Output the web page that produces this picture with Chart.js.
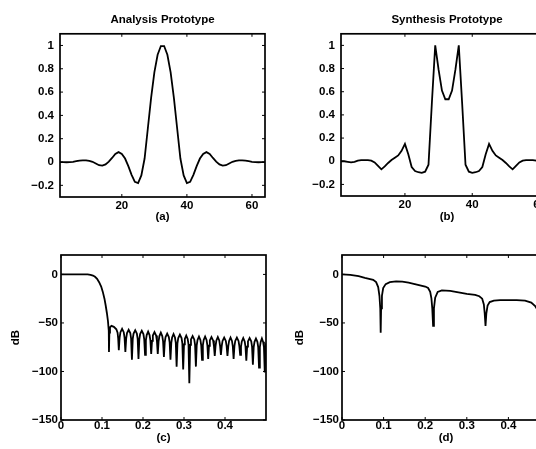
<!DOCTYPE html>
<html>
<head>
<meta charset="utf-8">
<script src="https://cdn.jsdelivr.net/npm/chart.js@4"></script>
<style>
  html, body { margin: 0; padding: 0; background: #fff; overflow: hidden; }
  #page { position: relative; width: 536px; height: 449px; overflow: hidden; background: #fff; }
  canvas { position: absolute; }
</style>
</head>
<body>
<div id="page">
  <canvas id="panel-a" width="275" height="226" style="left:0px;top:0px;width:275px;height:226px"></canvas>
  <canvas id="panel-b" width="300" height="226" style="left:276px;top:0px;width:300px;height:226px"></canvas>
  <canvas id="panel-c" width="275" height="219" style="left:0px;top:230px;width:275px;height:219px"></canvas>
  <canvas id="panel-d" width="300" height="219" style="left:276px;top:230px;width:300px;height:219px"></canvas>
</div>
<script>
// Tap index and axis ticks for the two prototype plots
const sampleIdx = [1, 2, 3, 4, 5, 6, 7, 8, 9, 10, 11, 12, 13, 14, 15, 16,
  17, 18, 19, 20, 21, 22, 23, 24, 25, 26, 27, 28, 29, 30, 31, 32,
  33, 34, 35, 36, 37, 38, 39, 40, 41, 42, 43, 44, 45, 46, 47, 48,
  49, 50, 51, 52, 53, 54, 55, 56, 57, 58, 59, 60, 61, 62, 63, 64];
const tapTicks = [20, 40, 60];
const ampTicks = [-0.2, 0, 0.2, 0.4, 0.6, 0.8, 1];

// (a) analysis prototype
const analysisTaps = [0, 0, -0.002, -0.001, 0.002, 0.007, 0.012, 0.015, 0.014, 0.01, 0.002, -0.012, -0.027, -0.03, -0.02, 0.003,
  0.035, 0.07, 0.085, 0.07, 0.03, -0.035, -0.11, -0.17, -0.18, -0.115, 0.03, 0.29, 0.55, 0.77, 0.92, 0.995,
  0.995, 0.92, 0.77, 0.55, 0.29, 0.03, -0.115, -0.18, -0.17, -0.11, -0.035, 0.03, 0.07, 0.085, 0.07, 0.035,
  0.003, -0.02, -0.03, -0.027, -0.012, 0.002, 0.01, 0.014, 0.015, 0.012, 0.007, 0.002, -0.001, -0.002, 0, 0];

// (b) synthesis prototype
const synthesisTaps = [0, 0, -0.005, -0.01, -0.005, 0.005, 0.01, 0.01, 0.01, 0.005, -0.01, -0.04, -0.07, -0.045, -0.015, 0.01,
  0.03, 0.05, 0.09, 0.15, 0.06, -0.05, -0.085, -0.095, -0.1, -0.09, -0.03, 0.5, 1.0, 0.79, 0.61, 0.535,
  0.535, 0.61, 0.79, 1.0, 0.5, -0.03, -0.09, -0.1, -0.095, -0.085, -0.05, 0.06, 0.15, 0.09, 0.05, 0.03,
  0.01, -0.015, -0.045, -0.07, -0.04, -0.01, 0.005, 0.01, 0.01, 0.01, 0.005, -0.005, -0.01, -0.005, 0, 0];

// Frequency axes ticks
const freqTicks = [0, 0.1, 0.2, 0.3, 0.4];
const dbTicks = [-150, -100, -50, 0];

// (c) analysis magnitude response (normalised frequency, dB)
const freqC = [0, 0.065, 0.072, 0.078, 0.083, 0.088, 0.093, 0.098, 0.102, 0.106, 0.109, 0.112, 0.1145, 0.1165,
  0.117, 0.118, 0.1195, 0.123, 0.129, 0.135, 0.138, 0.1395,
  0.141, 0.143, 0.145, 0.149, 0.153, 0.155,
  0.157, 0.159, 0.161, 0.165, 0.169, 0.171,
  0.173, 0.175, 0.177, 0.181, 0.185, 0.187,
  0.189, 0.191, 0.193, 0.197, 0.201, 0.203,
  0.205, 0.207, 0.209, 0.2125, 0.216, 0.218,
  0.220, 0.222, 0.224, 0.228, 0.232, 0.234,
  0.236, 0.238, 0.240, 0.2435, 0.247, 0.249,
  0.251, 0.253, 0.255, 0.259, 0.263, 0.265,
  0.267, 0.269, 0.271, 0.2745, 0.278, 0.280,
  0.282, 0.284, 0.286, 0.290, 0.294, 0.296,
  0.298, 0.300, 0.302, 0.3055, 0.309, 0.311,
  0.313, 0.315, 0.317, 0.321, 0.325, 0.327,
  0.329, 0.331, 0.333, 0.3365, 0.340, 0.342,
  0.344, 0.346, 0.348, 0.3515, 0.355, 0.357,
  0.359, 0.361, 0.363, 0.367, 0.371, 0.373,
  0.375, 0.377, 0.379, 0.3825, 0.386, 0.388,
  0.390, 0.392, 0.394, 0.398, 0.402, 0.404,
  0.406, 0.408, 0.410, 0.4135, 0.417, 0.419,
  0.421, 0.423, 0.425, 0.429, 0.433, 0.435,
  0.437, 0.439, 0.441, 0.4445, 0.448, 0.450,
  0.452, 0.454, 0.456, 0.460, 0.464, 0.466,
  0.468, 0.470, 0.472, 0.4755, 0.479, 0.481,
  0.483, 0.485, 0.487, 0.490, 0.493, 0.495,
  0.497, 0.499, 0.500];
const dbC = [0, 0, -0.4, -1.2, -2.5, -4.5, -8, -12.5, -18, -25, -32, -40, -48, -58,
  -80, -60, -54.5, -53, -54, -56.5, -60, -66,
  -78, -65, -59.5, -56, -59.5, -65,
  -80, -66, -60.5, -57, -60.5, -66,
  -88, -66.5, -61, -57.5, -61, -66.5,
  -87, -67, -61.5, -58, -61.5, -67,
  -83, -68, -62.5, -59, -62.5, -68,
  -82, -68.5, -63, -59.5, -63, -68.5,
  -82, -69, -63.5, -60, -63.5, -69,
  -85, -70, -64.5, -61, -64.5, -70,
  -88, -70.5, -65, -61.5, -65, -70.5,
  -95, -71, -65.5, -62, -65.5, -71,
  -98, -72, -66.5, -63, -66.5, -72,
  -112, -72.5, -67, -63.5, -67, -72.5,
  -95, -73, -67.5, -64, -67.5, -73,
  -88, -73, -67.5, -64, -67.5, -73,
  -87, -73.5, -68, -64.5, -68, -73.5,
  -84, -73.5, -68, -64.5, -68, -73.5,
  -83, -74, -68.5, -65, -68.5, -74,
  -84, -74, -68.5, -65, -68.5, -74,
  -87, -74, -68.5, -65, -68.5, -74,
  -83, -74.5, -69, -65.5, -69, -74.5,
  -89, -74.5, -69, -65.5, -69, -74.5,
  -93, -75, -69.5, -66, -69.5, -75,
  -96, -75, -69.5, -66, -69.5, -75,
  -101, -76, -71];

// (d) synthesis magnitude response
const freqD = [0, 0.02, 0.04, 0.055, 0.065, 0.075, 0.082, 0.087, 0.090, 0.092, 0.093, 0.094, 0.096, 0.099,
  0.105, 0.115, 0.13, 0.145, 0.16, 0.175, 0.19, 0.20, 0.207, 0.212, 0.215, 0.217, 0.219, 0.221, 0.224,
  0.23, 0.24, 0.26, 0.28, 0.30, 0.32, 0.33, 0.337, 0.341, 0.343, 0.345, 0.347, 0.35, 0.355,
  0.365, 0.38, 0.40, 0.42, 0.44, 0.455, 0.465, 0.475, 0.485];
const dbD = [0, -0.5, -1.8, -3.5, -4.5, -5.5, -8, -13, -22, -35, -60, -35, -22, -14,
  -10, -8, -7.2, -7.5, -8.5, -10, -11.5, -12.5, -14, -18, -25, -35, -53, -35, -24,
  -18, -16.5, -17, -18.5, -20, -21, -22.5, -25, -31, -40, -53, -40, -32, -28.5,
  -27, -26.5, -26.5, -26.5, -27, -29, -33, -40, -48];

const FONT_FAMILY = "'Liberation Sans', Arial, Helvetica, sans-serif";
const tickFont = { family: FONT_FAMILY, size: 11.5, weight: "bold" };
const titleFont = { family: FONT_FAMILY, size: 11.5, weight: "bold" };

// tick labels use a real minus sign like the printed figure
const fmtTick = (v) => (v < 0 ? "\u2212" + String(-v) : String(v));

// Draws the matlab style box and small inward tick marks
const matlabBox = {
  id: "matlabBox",
  afterDraw(chart) {
    const { ctx, chartArea: a, scales } = chart;
    ctx.save();
    ctx.strokeStyle = "#000";
    ctx.lineWidth = 1;
    scales.x.ticks.forEach((t) => {
      const px = scales.x.getPixelForValue(t.value);
      ctx.beginPath();
      ctx.moveTo(px, a.bottom);
      ctx.lineTo(px, a.bottom - 3);
      ctx.moveTo(px, a.top);
      ctx.lineTo(px, a.top + 3);
      ctx.stroke();
    });
    scales.y.ticks.forEach((t) => {
      const py = scales.y.getPixelForValue(t.value);
      ctx.beginPath();
      ctx.moveTo(a.left, py);
      ctx.lineTo(a.left + 3, py);
      ctx.moveTo(a.right, py);
      ctx.lineTo(a.right - 3, py);
      ctx.stroke();
    });
    ctx.lineWidth = 1.7;
    ctx.strokeRect(a.left, a.top, a.right - a.left, a.bottom - a.top);
    ctx.restore();
  },
};

const toPoints = (xs, ys) => xs.map((x, i) => ({ x, y: ys[i] }));

const makePanel = (id, p) => {
  return new Chart(document.getElementById(id), {
    type: "line",
    data: {
      datasets: [
        {
          data: toPoints(p.xs, p.ys),
          borderColor: "#000",
          borderWidth: 1.8,
          pointRadius: 0,
          tension: 0,
          fill: false,
        },
      ],
    },
    options: {
      responsive: false,
      animation: false,
      events: [],
      layout: { padding: { left: 0, right: p.padRight, top: p.padTop, bottom: 0 } },
      plugins: {
        legend: { display: false },
        tooltip: { enabled: false },
        title: {
          display: !!p.title,
          text: p.title || "",
          fullSize: false,
          color: "#000",
          font: titleFont,
          padding: { top: 13, bottom: 7 },
        },
      },
      scales: {
        x: {
          type: "linear",
          min: p.xMin,
          max: p.xMax,
          afterBuildTicks: (axis) => {
            axis.ticks = p.xTicks.map((v) => ({ value: v }));
          },
          afterFit: (scale) => {
            scale.height = p.xHeight;
          },
          grid: { display: false, drawTicks: false },
          border: { display: false },
          ticks: { color: "#000", font: tickFont, padding: p.xTickPad, maxRotation: 0, autoSkip: false, callback: fmtTick },
          title: { display: true, text: p.label, color: "#000", font: tickFont, padding: { top: 0, bottom: p.labelPad } },
        },
        y: {
          type: "linear",
          min: p.yMin,
          max: p.yMax,
          afterBuildTicks: (axis) => {
            axis.ticks = p.yTicks.map((v) => ({ value: v }));
          },
          afterFit: (scale) => {
            scale.width = p.yWidth;
          },
          grid: { display: false, drawTicks: false },
          border: { display: false },
          ticks: { color: "#000", font: tickFont, padding: p.yTickPad, autoSkip: false, callback: fmtTick },
          title: { display: !!p.yTitle, text: p.yTitle || "", color: "#000", font: tickFont, padding: { top: p.yTitlePad || 0, bottom: 0 } },
        },
      },
    },
    plugins: [matlabBox],
  });
};

makePanel("panel-a", {
  xs: sampleIdx, ys: analysisTaps, title: "Analysis Prototype", label: "(a)",
  xMin: 1, xMax: 64, xTicks: tapTicks, yMin: -0.3, yMax: 1.1, yTicks: ampTicks,
  padRight: 10, padTop: 0, xHeight: 29, yWidth: 60, xTickPad: 2, yTickPad: 6, labelPad: 2,
});

makePanel("panel-b", {
  xs: sampleIdx, ys: synthesisTaps, title: "Synthesis Prototype", label: "(b)",
  xMin: 1, xMax: 64, xTicks: tapTicks, yMin: -0.3, yMax: 1.1, yTicks: ampTicks,
  padRight: 23, padTop: 0, xHeight: 30, yWidth: 65, xTickPad: 2, yTickPad: 6, labelPad: 2,
});

makePanel("panel-c", {
  xs: freqC, ys: dbC, label: "(c)", yTitle: "dB", yTitlePad: 9,
  xMin: 0, xMax: 0.5, xTicks: freqTicks, yMin: -150, yMax: 20, yTicks: dbTicks,
  padRight: 9, padTop: 25, xHeight: 29, yWidth: 61, xTickPad: -1, yTickPad: 3, labelPad: 4,
});

makePanel("panel-d", {
  xs: freqD, ys: dbD, label: "(d)", yTitle: "dB", yTitlePad: 17,
  xMin: 0, xMax: 0.5, xTicks: freqTicks, yMin: -150, yMax: 20, yTicks: dbTicks,
  padRight: 26, padTop: 25, xHeight: 29, yWidth: 66, xTickPad: -1, yTickPad: 3, labelPad: 4,
});
</script>
</body>
</html>
